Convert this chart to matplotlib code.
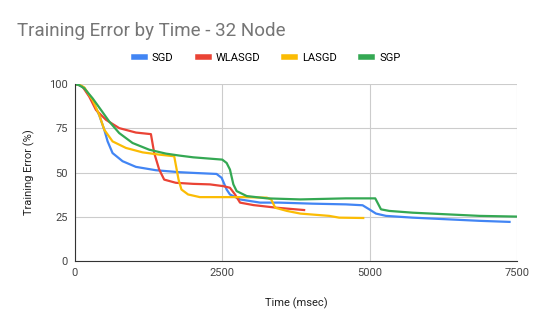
import matplotlib
matplotlib.use("Agg")
import matplotlib.pyplot as plt

sgd_t = [0, 80, 158, 298, 412, 497, 554, 638, 808, 1034, 1373, 1769, 2006, 2403, 2489, 2574, 2630, 2801, 3142, 3464, 4031, 4598, 4881, 4994, 5108, 5278, 5731, 6298, 6865, 7375]
sgd_y = [100, 99.3, 97.8, 90.5, 82.4, 74.2, 67.6, 61, 56.4, 53.2, 51.3, 50.2, 49.8, 49.2, 47, 40.4, 37.6, 34.8, 33, 33, 32.4, 32.0, 31.5, 29.2, 26.8, 25.5, 24.5, 23.6, 22.7, 22.1]

wl_t = [0, 60, 129, 242, 356, 526, 751, 1034, 1289, 1345, 1429, 1514, 1712, 2006, 2290, 2517, 2630, 2716, 2801, 3028, 3426, 3889]
wl_y = [100, 99.6, 98.5, 92.9, 85.4, 79.8, 75.1, 72.6, 71.7, 61, 51.7, 46, 44.2, 43.6, 43.3, 42.3, 41.4, 37.6, 33, 31.6, 30.1, 28.8]

la_t = [0, 80, 158, 298, 412, 497, 638, 865, 1147, 1437, 1684, 1758, 1807, 1920, 2119, 2500, 2858, 3256, 3330, 3398, 3597, 3824, 4314, 4484, 4892]
la_y = [100, 99.5, 98.1, 91, 82.6, 74.2, 67.6, 63.9, 61.4, 60.1, 59.2, 46, 40.4, 37.6, 36.1, 36.1, 36.1, 35.8, 34.8, 30.1, 28.3, 26.8, 25.5, 24.5, 24.3]

sgp_t = [0, 70, 158, 298, 441, 582, 751, 977, 1260, 1543, 1769, 2006, 2500, 2574, 2630, 2688, 2744, 2915, 3256, 3824, 4598, 5096, 5193, 5334, 5731, 6298, 6865, 7500]
sgp_y = [100, 99.4, 97.6, 92, 85.4, 78.8, 72.3, 66.7, 62.9, 60.7, 59.6, 58.6, 57.3, 55.4, 51.7, 43.3, 39.5, 36.7, 35.4, 34.8, 35.4, 35.4, 29.2, 28.3, 27.3, 26.4, 25.5, 25.1]

series = [("SGD", sgd_t, sgd_y, "#4285F4"),
          ("WLASGD", wl_t, wl_y, "#EA4335"),
          ("LASGD", la_t, la_y, "#FBBC04"),
          ("SGP", sgp_t, sgp_y, "#34A853")]

plt.rcParams['font.family'] = ['Roboto', 'DejaVu Sans']
fig = plt.figure(figsize=(5.34, 3.31), dpi=100)
ax = fig.add_axes([0.1404, 0.2115, 0.8276, 0.5345])
for name, t, y, c in series:
    ax.plot(t, y, color=c, lw=1.6, label=name, solid_joinstyle='round')

ax.set_xlim(0, 7500)
ax.set_ylim(0, 100)
ax.set_xticks([0, 2500, 5000, 7500])
ax.set_yticks([0, 25, 50, 75, 100])
ax.grid(True, color="#cccccc", lw=0.8)
ax.set_axisbelow(True)
for s in ["top", "right"]:
    ax.spines[s].set_visible(False)
ax.spines["left"].set_color("#333333")
ax.spines["bottom"].set_color("#333333")
ax.tick_params(length=0, labelsize=8, colors="#444444", pad=5)
ax.set_xlabel("Time (msec)", fontsize=8, color="#222222", labelpad=14)
ax.set_ylabel("Training Error (%)", fontsize=8, color="#222222", labelpad=10)

fig.text(17/534, 1 - 31/331, "Training Error by Time - 32 Node", fontsize=13.5,
         color="#757575", va="center", ha="left")
leg = fig.legend(loc="center", bbox_to_anchor=(0.5, 1 - 58/331), ncol=4, frameon=False,
                 fontsize=8, handlelength=1.0, handletextpad=0.6, columnspacing=2.2)
for h in leg.get_lines():
    h.set_linewidth(4)
fig.savefig("out.png", dpi=100)
